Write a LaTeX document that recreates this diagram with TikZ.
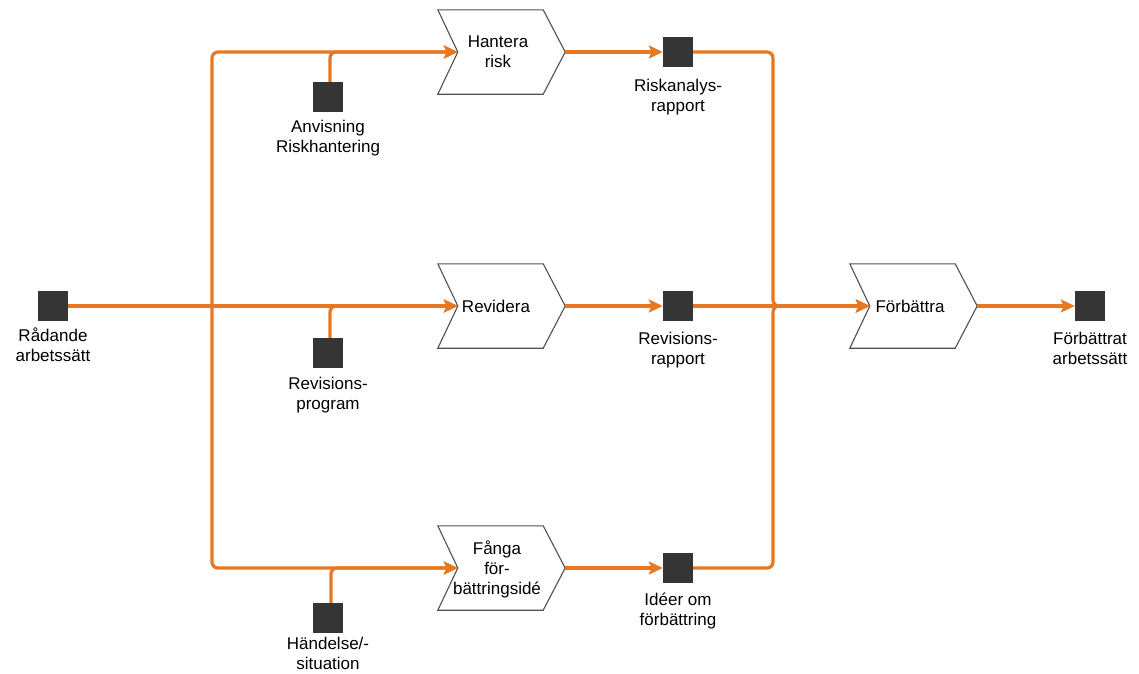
\documentclass[tikz,border=0pt]{standalone}
\usepackage{fontspec}
\setmainfont{Liberation Sans}
\usetikzlibrary{arrows.meta,calc}
\definecolor{flow}{RGB}{232,119,34}
\definecolor{sq}{RGB}{53,53,53}
\definecolor{chev}{RGB}{80,80,80}
\tikzset{
  docsq/.style={rectangle,fill=sq,draw=none,minimum width=30pt,minimum height=30pt,inner sep=0pt},
  lbl/.style={align=center,inner sep=0pt,font=\fontsize{17pt}{20pt}\selectfont},
  chevbox/.style={rectangle,minimum width=127pt,minimum height=84pt,inner sep=0pt,align=center,font=\fontsize{17pt}{20pt}\selectfont},
  chevline/.style={draw=chev,line width=1.1pt,fill=white,line join=miter},
  flowline/.style={draw=flow,line width=3.2pt,rounded corners=6pt},
  tip/.style={-{Stealth[length=14pt,width=13pt,inset=3pt]}},
}
\newcommand{\chevronshape}[1]{%
  \path[chevline] (#1.north west) -- ($(#1.north east)+(-22,0)$) -- (#1.east)
    -- ($(#1.south east)+(-22,0)$) -- (#1.south west) -- ($(#1.west)+(20,0)$) -- cycle;
  \coordinate (#1-in) at ($(#1.west)+(20,0)$);
}
\begin{document}
\begin{tikzpicture}[x=1pt,y=-1pt]
\useasboundingbox (0,0) rectangle (1139,673);

% squares
\node[docsq] (rad) at (53,306) {};
\node[docsq] (anv) at (328,97) {};
\node[docsq] (revp) at (328,353) {};
\node[docsq] (hand) at (328,618) {};
\node[docsq] (ris) at (678,52) {};
\node[docsq] (revr) at (678,306) {};
\node[docsq] (ide) at (678,568) {};
\node[docsq] (fbt) at (1090,306) {};

% labels
\node[lbl] (radL) at (53,345) {Rådande\\arbetssätt};
\node[lbl] (anvL) at (328,138) {Anvisning\\Riskhantering};
\node[lbl] (revpL) at (328,395) {Revisions-\\program};
\node[lbl] (handL) at (328,653) {Händelse/-\\situation};
\node[lbl] (risL) at (678,97) {Riskanalys-\\rapport};
\node[lbl] (revrL) at (678,350) {Revisions-\\rapport};
\node[lbl] (ideL) at (678,611) {Idéer om\\förbättring};
\node[lbl] (fbtL) at (1090,348) {Förbättrat\\arbetssätt};

% chevrons
\node[chevbox] (ha) at (501.5,52) {};
\node[chevbox] (re) at (501.5,306) {};
\node[chevbox] (fa) at (501.5,568) {};
\node[chevbox] (fo) at (913.5,306) {};
\chevronshape{ha}
\chevronshape{re}
\chevronshape{fa}
\chevronshape{fo}
\node[lbl] (haT) at (498,52) {Hantera\\risk};
\node[lbl] (reT) at (496,306) {Revidera};
\node[lbl] (faT) at (497,569) {Fånga\\för-\\bättringsidé};
\node[lbl] (foT) at (910,306) {Förbättra};

% junction coordinates
\coordinate (lj) at (212,306);
\coordinate (rj) at (773,306);

% left side flows
\draw[flowline,tip] (rad.east) -- (re-in);
\draw[flowline,tip] (lj) |- (ha-in);
\draw[flowline,tip] (lj) |- (fa-in);
\draw[flowline,tip] ([xshift=2pt]anv.north) |- (ha-in);
\draw[flowline,tip] ([xshift=2pt]revp.north) |- (re-in);
\draw[flowline,tip] ([xshift=3pt]hand.north) |- (fa-in);

% middle flows
\draw[flowline,tip] (ha.east) -- (ris.west);
\draw[flowline,tip] (re.east) -- (revr.west);
\draw[flowline,tip] (fa.east) -- (ide.west);

% right side flows
\draw[flowline,tip] (ris.east) -| (rj) -- (fo-in);
\draw[flowline,tip] (ide.east) -| (rj) -- (fo-in);
\draw[flowline,tip] (revr.east) -- (fo-in);
\draw[flowline,tip] (fo.east) -- (fbt.west);

% redraw squares on top
\node[docsq] at (rad) {};
\node[docsq] at (ris) {};
\node[docsq] at (revr) {};
\node[docsq] at (ide) {};
\node[docsq] at (fbt) {};
\end{tikzpicture}
\end{document}
